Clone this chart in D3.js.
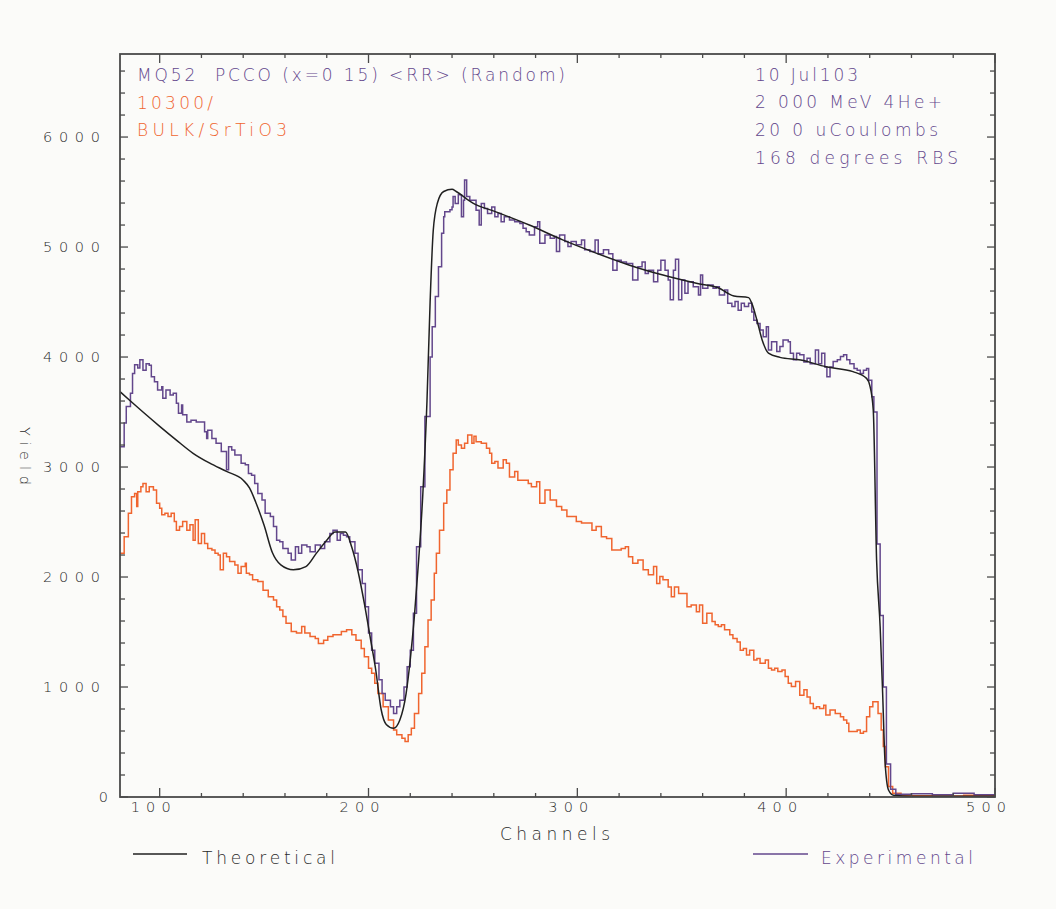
<!DOCTYPE html>
<html>
<head>
<meta charset="utf-8">
<script src="https://cdn.jsdelivr.net/npm/d3@7"></script>
<style>
  body { margin: 0; background: #fbfbf9; }
  svg text { font-family: "DejaVu Sans", sans-serif; font-weight: 200; white-space: pre; }
</style>
</head>
<body>
<div id="chart"></div>
<script>
// RBS spectrum, values: [channel, yield]
const theoretical = [
  [81,3685],[86,3600],[92,3500],[100,3370],[108,3245],[116,3125],[124,3035],[132,2960],
  [140,2880],[143,2810],[146,2680],[150,2470],[154,2220],[158,2110],[164,2065],[170,2095],
  [175,2215],[180,2335],[184,2410],[189,2410],[192,2270],[195,2050],[198,1760],[201,1430],
  [203.5,1150],[206,800],[208.5,660],[212,625],[215,700],[218,940],[220,1250],[222,1650],
  [224,2150],[226,2750],[228,3600],[229.5,4500],[231,5150],[233,5400],[236,5505],[240,5525],
  [242,5505],[250,5400],[261,5320],[277,5200],[293,5065],[309,4945],[325,4835],[341,4745],
  [357,4670],[368,4625],[372,4580],[375,4555],[382,4540],[383.5,4490],[386,4335],[388.5,4155],
  [391.5,4035],[397,3997],[407,3973],[419,3912],[432,3867],[438.5,3806],[440,3745],[441.7,3520],
  [443.3,2155],[445,1548],[446.2,943],[447.3,336],[449,64],[451.5,15],[460,6],[500,6]
];

const experimental = [
  [81,3185],[83,3400],[84,3550],[86,3670],[87,3850],[88,3930],[89.5,3900],[90.5,3975],[92,3880],
  [93.5,3940],[95,3925],[96,3820],[97.5,3775],[99,3700],[101,3730],[101.5,3625],[103,3700],
  [105,3655],[106.5,3670],[108,3580],[109,3490],[110.5,3565],[111,3475],[113,3410],[115,3425],
  [117.5,3410],[120,3410],[121.5,3320],[122.5,3260],[123,3335],[125,3260],[127,3215],[129.5,3140],
  [132,2975],[133,3185],[134.5,3155],[136,3110],[137.5,3110],[139,3035],[141,3020],[142.5,2940],
  [144,2925],[145.5,2850],[147,2760],[149,2700],[150.5,2580],[153,2550],[154.5,2460],[156,2335],
  [157.5,2320],[159,2260],[161.5,2215],[163,2155],[165,2275],[166.5,2215],[168,2290],[170.5,2275],
  [172,2230],[174.5,2290],[177,2260],[179,2320],[181.5,2395],[183,2425],[185,2335],[186.5,2395],
  [188,2380],[189.5,2365],[191,2320],[193.5,2215],[195,2065],[197,1940],[198.5,1730],[200,1490],
  [201.5,1335],[203,1215],[205,1065],[206.5,940],[208,880],[210.5,820],[212,760],[213.5,820],
  [215,880],[217,1000],[218.5,1185],[220,1335],[221.5,1670],[223,2275],[225,2820],[227,3460],
  [229.5,4000],[230.5,4275],[232,4550],[233.5,4820],[235,5125],[236,5275],[236.5,5320],[239,5340],
  [240,5365],[240.5,5460],[241.5,5395],[243,5475],[244.5,5275],[245.5,5425],[246,5610],[247,5460],
  [248.5,5425],[250,5425],[251.5,5335],[253,5200],[254,5395],[255.5,5350],[257,5305],[259,5365],
  [260.5,5275],[262,5305],[263.5,5230],[265,5275],[267.5,5245],[270,5230],[272.5,5215],[274,5170],
  [275.5,5140],[277,5110],[279.5,5185],[281,5230],[282,5035],[284.5,5110],[287,5080],[289,5095],
  [290,4960],[291.5,5110],[294,5050],[295.5,5005],[297,5050],[299.5,5020],[302,5065],[303.5,4975],
  [306,4960],[308.5,5065],[310,4940],[312.5,4975],[315,4940],[317,4790],[319,4880],[321,4865],
  [323.5,4850],[326.5,4700],[329,4820],[331,4865],[332.5,4760],[334,4790],[336.5,4685],[338.5,4790],
  [340,4880],[342,4790],[343.5,4700],[344.5,4520],[346,4790],[347,4890],[348.5,4520],[350,4700],
  [351.5,4580],[353,4685],[355.5,4640],[358,4565],[359,4745],[360,4625],[362.5,4655],[365,4625],
  [366.5,4640],[368,4565],[370.5,4610],[372,4490],[374,4460],[375.5,4505],[377,4425],[378.5,4490],
  [380,4460],[382,4490],[383.5,4410],[384.5,4335],[386,4305],[387.5,4245],[389,4185],[390.5,4275],
  [391.5,4065],[393,4140],[395.5,4050],[397,4095],[398.5,4155],[401,4140],[402,4035],[403.5,3975],
  [405,4035],[406.5,4020],[408.5,3955],[410,3990],[411.5,3940],[414,4065],[415.5,3940],[417,4035],
  [418.5,3910],[419.5,3820],[421,3910],[422.5,3960],[424.5,3975],[426,4005],[427.5,4020],[429,3975],
  [430.5,3940],[432.5,3895],[434,3880],[435.5,3850],[437,3880],[438.5,3895],[439.5,3790],[441,3640],
  [442,3500],[443.5,2300],[445,1650],[446.5,1000],[448,300],[450,70],[452.5,25],[460,30],[470,20],
  [480,35],[490,20],[500,25]
];

const bulk = [
  [81,2215],[83,2365],[85,2580],[86.5,2730],[88,2760],[89,2640],[89.5,2775],[91,2820],[92,2850],
  [93.5,2775],[95,2820],[97,2790],[98.5,2670],[100,2625],[101,2565],[102.5,2580],[104,2550],
  [105.5,2580],[107,2505],[108,2425],[109.5,2460],[111,2505],[113,2425],[114.5,2475],[116,2335],
  [117,2520],[118.5,2305],[120,2395],[121.5,2305],[123,2260],[125,2245],[126.5,2215],[128,2200],
  [129,2065],[130.5,2215],[132,2185],[133.5,2140],[136,2110],[137.5,2035],[139,2095],[141,2125],
  [141.5,2035],[143,2020],[144.5,1975],[147,1960],[149.5,1880],[152,1820],[154.5,1790],[156,1730],
  [157.5,1700],[159,1640],[160.5,1580],[163,1505],[165.5,1490],[168,1550],[169.5,1490],[172,1460],
  [174.5,1440],[176,1395],[178.5,1425],[180.5,1460],[183,1475],[185.5,1475],[187,1505],[189.5,1520],
  [192,1475],[194,1425],[196.5,1350],[198,1275],[200,1170],[201.5,1125],[203,1035],[204.5,940],
  [207,820],[209.5,700],[212,610],[213.5,565],[216,535],[217.5,505],[219,565],[220.5,625],[222,760],
  [224,940],[225.5,1125],[227,1365],[228.5,1610],[230,1790],[231.5,2035],[232.5,2215],[234,2425],
  [236,2670],[237.5,2790],[239,2975],[240.5,3125],[242,3245],[243,3200],[244.5,3170],[246,3215],
  [247.5,3290],[249.5,3215],[250.5,3280],[251.5,3230],[254,3215],[256.5,3170],[258,3125],[259,3035],
  [260.5,3050],[262,2990],[264.5,3065],[266,3035],[267.5,2910],[270,2960],[271.5,2880],[274,2880],
  [276.5,2850],[278,2820],[280.5,2865],[282,2670],[284.5,2790],[287,2700],[290,2640],[292.5,2610],
  [295,2550],[297,2550],[299.5,2505],[302,2490],[304.5,2490],[307,2425],[309,2460],[311.5,2365],
  [314,2350],[316.5,2245],[319,2245],[321,2260],[323,2275],[324.5,2185],[326.5,2125],[329,2155],
  [331.5,2065],[334,2020],[336.5,2095],[338,1940],[339.5,2005],[341,1975],[343.5,1910],[345,1820],
  [346.5,1910],[348.5,1850],[350.5,1850],[352.5,1730],[354.5,1745],[357,1685],[358.5,1745],[360,1580],
  [362,1670],[363.5,1670],[364.5,1595],[366,1565],[367.5,1550],[369,1565],[370.5,1520],[373,1475],
  [374.5,1440],[376.5,1410],[378,1335],[379.5,1350],[381,1290],[382.5,1335],[384.5,1245],[386,1260],
  [387.5,1215],[390,1245],[391.5,1170],[393,1155],[394.5,1170],[396,1140],[398,1155],[399.5,1095],
  [401,1035],[402.5,1005],[404.5,1050],[406.5,925],[408.5,975],[410,910],[411.5,850],[413,805],
  [414.5,820],[416,805],[418,835],[419,745],[421,790],[423.5,760],[426,730],[427.5,700],[429,670],
  [430,595],[432,595],[434,610],[435.5,580],[437,595],[438.5,730],[440,820],[441.5,865],[443,865],
  [444,760],[445.5,610],[446.5,460],[447.5,275],[449,95],[451,35],[455,12],[470,10],[485,15],[500,10]
];

const xTicks = [100, 200, 300, 400, 500];
const yTicks = [0, 1000, 2000, 3000, 4000, 5000, 6000];
const headerLeft = ["MQ52  PCCO (x=0 15) <RR> (Random)", "10300/", "BULK/SrTiO3"];
const headerRight = ["10 Jul103", "2 000 MeV 4He+", "20 0 uCoulombs", "168 degrees RBS"];
const legendNames = ["Theoretical", "Experimental"];

// ---- drawing ----
const W = 1056, H = 909;
const box = {left: 120, right: 995, top: 54, bottom: 797};
const purple = "#63478c", orange = "#f0652f", ink = "#202020", grey = "#4a4a4a", label_ink = "#2a2a2a";

// widths of the original lettering (stroke font is wide and airy)
const fit = {
  "MQ52  PCCO (x=0 15) <RR> (Random)": 428, "10300/": 76, "BULK/SrTiO3": 150,
  "10 Jul103": 103, "2 000 MeV 4He+": 187, "20 0 uCoulombs": 183, "168 degrees RBS": 203,
  "Theoretical": 133, "Experimental": 152, "Channels": 110, "Yield": 58
};

let svg = d3.select("#chart").append("svg")
  .attr("width", W).attr("height", H);
svg.append("rect").attr("width", W).attr("height", H).attr("fill", "#fbfbf9");

let x = d3.scaleLinear().domain([81, 500]).range([box.left, box.right]);
let y = d3.scaleLinear().domain([0, 6755]).range([box.bottom, box.top]);

svg.append("clipPath").attr("id", "plot")
  .append("rect")
  .attr("x", box.left).attr("y", box.top)
  .attr("width", box.right - box.left).attr("height", box.bottom - box.top);

let g = svg.append("g").attr("clip-path", "url(#plot)");

let stepLine = d3.line().x(d => x(d[0])).y(d => y(d[1])).curve(d3.curveStepAfter);
let smoothLine = d3.line().x(d => x(d[0])).y(d => y(d[1])).curve(d3.curveMonotoneX);

g.append("path").datum(bulk)
  .attr("d", stepLine).attr("fill", "none")
  .attr("stroke", orange).attr("stroke-width", 1.5);
g.append("path").datum(experimental)
  .attr("d", stepLine).attr("fill", "none")
  .attr("stroke", purple).attr("stroke-width", 1.5);
g.append("path").datum(theoretical)
  .attr("d", smoothLine).attr("fill", "none")
  .attr("stroke", ink).attr("stroke-width", 1.5);

// frame with inward ticks on all four sides
svg.append("rect")
  .attr("x", box.left).attr("y", box.top)
  .attr("width", box.right - box.left).attr("height", box.bottom - box.top)
  .attr("fill", "none").attr("stroke", grey).attr("stroke-width", 1.8);

let xMinor = d3.range(100, 501, 20);
let yMinor = d3.range(0, 6755, 200);

let ticks = svg.append("g").attr("stroke", grey).attr("stroke-width", 1.3);
xMinor.forEach(c => {
  let len = c % 100 === 0 ? 9 : 4;
  ticks.append("line").attr("x1", x(c)).attr("x2", x(c))
    .attr("y1", box.bottom).attr("y2", box.bottom - len);
  ticks.append("line").attr("x1", x(c)).attr("x2", x(c))
    .attr("y1", box.top).attr("y2", box.top + len);
});
yMinor.forEach(v => {
  let len = v % 1000 === 0 ? 8 : 5;
  ticks.append("line").attr("y1", y(v)).attr("y2", y(v))
    .attr("x1", box.left).attr("x2", box.left + len);
  ticks.append("line").attr("y1", y(v)).attr("y2", y(v))
    .attr("x1", box.right).attr("x2", box.right - len);
});

// tick labels
svg.append("g").selectAll("text").data(xTicks).join("text")
  .attr("x", d => x(d) - 9).attr("y", 812)
  .attr("text-anchor", "middle")
  .attr("font-size", 14.5).attr("fill", label_ink)
  .attr("textLength", 40).attr("lengthAdjust", "spacing")
  .text(d => d);

svg.append("g").selectAll("text").data(yTicks).join("text")
  .attr("x", d => d === 0 ? 108 : 100).attr("y", d => y(d) + 5)
  .attr("text-anchor", "end")
  .attr("font-size", 14.5).attr("fill", label_ink)
  .attr("textLength", d => d === 0 ? 10 : 57).attr("lengthAdjust", "spacing")
  .text(d => d);

function label(parent, str, px, py, colour, size) {
  return parent.append("text")
    .attr("x", px).attr("y", py)
    .attr("font-size", size).attr("fill", colour)
    .attr("textLength", fit[str]).attr("lengthAdjust", "spacing")
    .text(str);
}

// axis titles
label(svg, "Channels", 500, 840, label_ink, 17);
label(svg, "Yield", 0, 0, label_ink, 14.5)
  .attr("transform", "translate(20,427) rotate(90)");

// run info in the top corners
headerLeft.forEach((s, i) => {
  label(svg, s, 137, [81, 109, 136][i], i === 0 ? purple : orange, 17);
});
headerRight.forEach((s, i) => {
  label(svg, s, 755, [81, 108, 136, 164][i], purple, 17);
});

// legend under the axis
let legend = svg.append("g");
legend.append("line").attr("x1", 133).attr("x2", 187).attr("y1", 854).attr("y2", 854)
  .attr("stroke", ink).attr("stroke-width", 1.5);
label(legend, legendNames[0], 202, 864, label_ink, 17);
legend.append("line").attr("x1", 753).attr("x2", 808).attr("y1", 854).attr("y2", 854)
  .attr("stroke", purple).attr("stroke-width", 1.5);
label(legend, legendNames[1], 821, 864, purple, 17);
</script>
</body>
</html>
